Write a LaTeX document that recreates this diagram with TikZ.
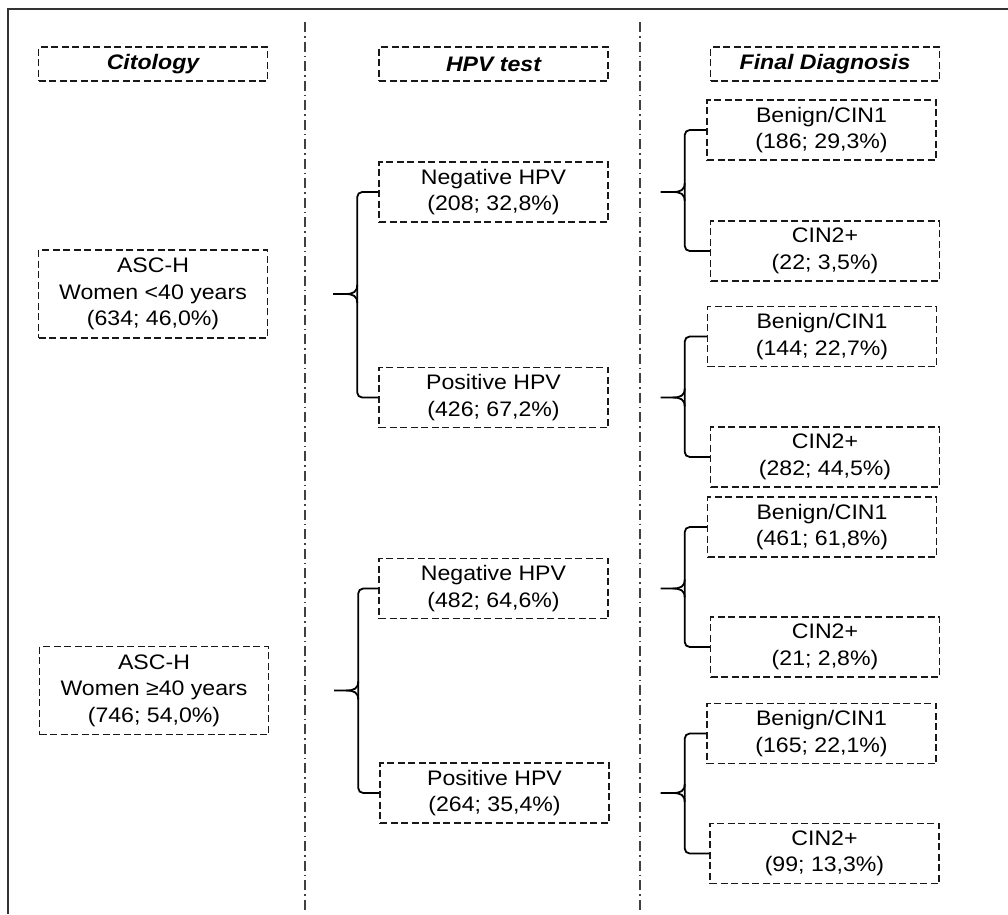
\documentclass[tikz,border=0pt]{standalone}
\usepackage{fontspec}
\setmainfont{Liberation Sans}[FakeStretch=1.1]
\usetikzlibrary{calc}
\tikzset{
  box/.style={draw=black!90, line width=1.4pt, dash pattern=on 7pt off 3.5pt,
    minimum width=229pt, inner sep=0pt, align=center,
    font=\fontsize{21}{26.5}\selectfont},
  head/.style={box, minimum height=34pt, font=\fontsize{21}{24}\selectfont\bfseries\itshape},
  two/.style={box, minimum height=60pt},
  three/.style={box, minimum height=88pt},
  conn/.style={line width=1.8pt, black},
  sepline/.style={line width=1.5pt, black!75, dash pattern=on 10pt off 4pt on 1.5pt off 4pt},
  frame/.style={line width=2pt, black!80},
}
\newcommand\brc[3]{%
  \draw[conn, rounded corners=5pt] (#2.west) -| ($(#1)+(24,0)$) |- (#3.west);
  \draw[conn] ($(#1)+(24,-9)$) .. controls ($(#1)+(24,-2)$) and ($(#1)+(20,0)$) .. ($(#1)+(12,0)$) -- (#1);
  \draw[conn] ($(#1)+(24,9)$) .. controls ($(#1)+(24,2)$) and ($(#1)+(20,0)$) .. ($(#1)+(12,0)$);
}
\begin{document}
\begin{tikzpicture}[x=1pt,y=-1pt]
\useasboundingbox (0,0) rectangle (1008,914);
% frame
\draw[frame] (8,914) -- (8,9) -- (1010,9);
% separators
\coordinate (s1t) at (305,22); \coordinate (s1b) at (305,912);
\coordinate (s2t) at (640,22); \coordinate (s2b) at (640,912);
\draw[sepline] (s1t) -- (s1b);
\draw[sepline] (s2t) -- (s2b);
% headers
\node[head] (cit) at (153,64) {Citology};
\node[head] (hpv) at (493.5,64) {HPV test};
\node[head] (fd)  at (825,64) {Final Diagnosis};
% citology
\node[three] (asc1) at (153,294) {ASC-H\\Women <40 years\\(634; 46,0\%)};
\node[three] (asc2) at (154,690.5) {ASC-H\\Women ≥40 years\\(746; 54,0\%)};
% HPV
\node[two] (neg1) at (493.5,192) {Negative HPV\\(208; 32,8\%)};
\node[two] (pos1) at (493.5,397.5) {Positive HPV\\(426; 67,2\%)};
\node[two] (neg2) at (493.5,588.5) {Negative HPV\\(482; 64,6\%)};
\node[two] (pos2) at (494.5,793) {Positive HPV\\(264; 35,4\%)};
% final
\node[two] (b1) at (821.5,130) {Benign/CIN1\\(186; 29,3\%)};
\node[two] (c1) at (825,251) {CIN2+\\(22; 3,5\%)};
\node[two] (b2) at (822,336.5) {Benign/CIN1\\(144; 22,7\%)};
\node[two] (c2) at (825,457) {CIN2+\\(282; 44,5\%)};
\node[two] (b3) at (822,527) {Benign/CIN1\\(461; 61,8\%)};
\node[two] (c3) at (825,647) {CIN2+\\(21; 2,8\%)};
\node[two] (b4) at (821.5,733.5) {Benign/CIN1\\(165; 22,1\%)};
\node[two] (c4) at (824.5,853.5) {CIN2+\\(99; 13,3\%)};
% brace tips
\coordinate (tA) at ($(asc1.east)+(65,0)$);
\coordinate (tD) at ($(asc2.east)+(65,0)$);
\coordinate (tB) at ($(neg1.east)+(52,0)$);
\coordinate (tC) at ($(pos1.east)+(52,0)$);
\coordinate (tE) at ($(neg2.east)+(52,0)$);
\coordinate (tF) at ($(pos2.east)+(51,0)$);
\brc{tA}{neg1}{pos1}
\brc{tD}{neg2}{pos2}
\brc{tB}{b1}{c1}
\brc{tC}{b2}{c2}
\brc{tE}{b3}{c3}
\brc{tF}{b4}{c4}
\end{tikzpicture}
\end{document}
